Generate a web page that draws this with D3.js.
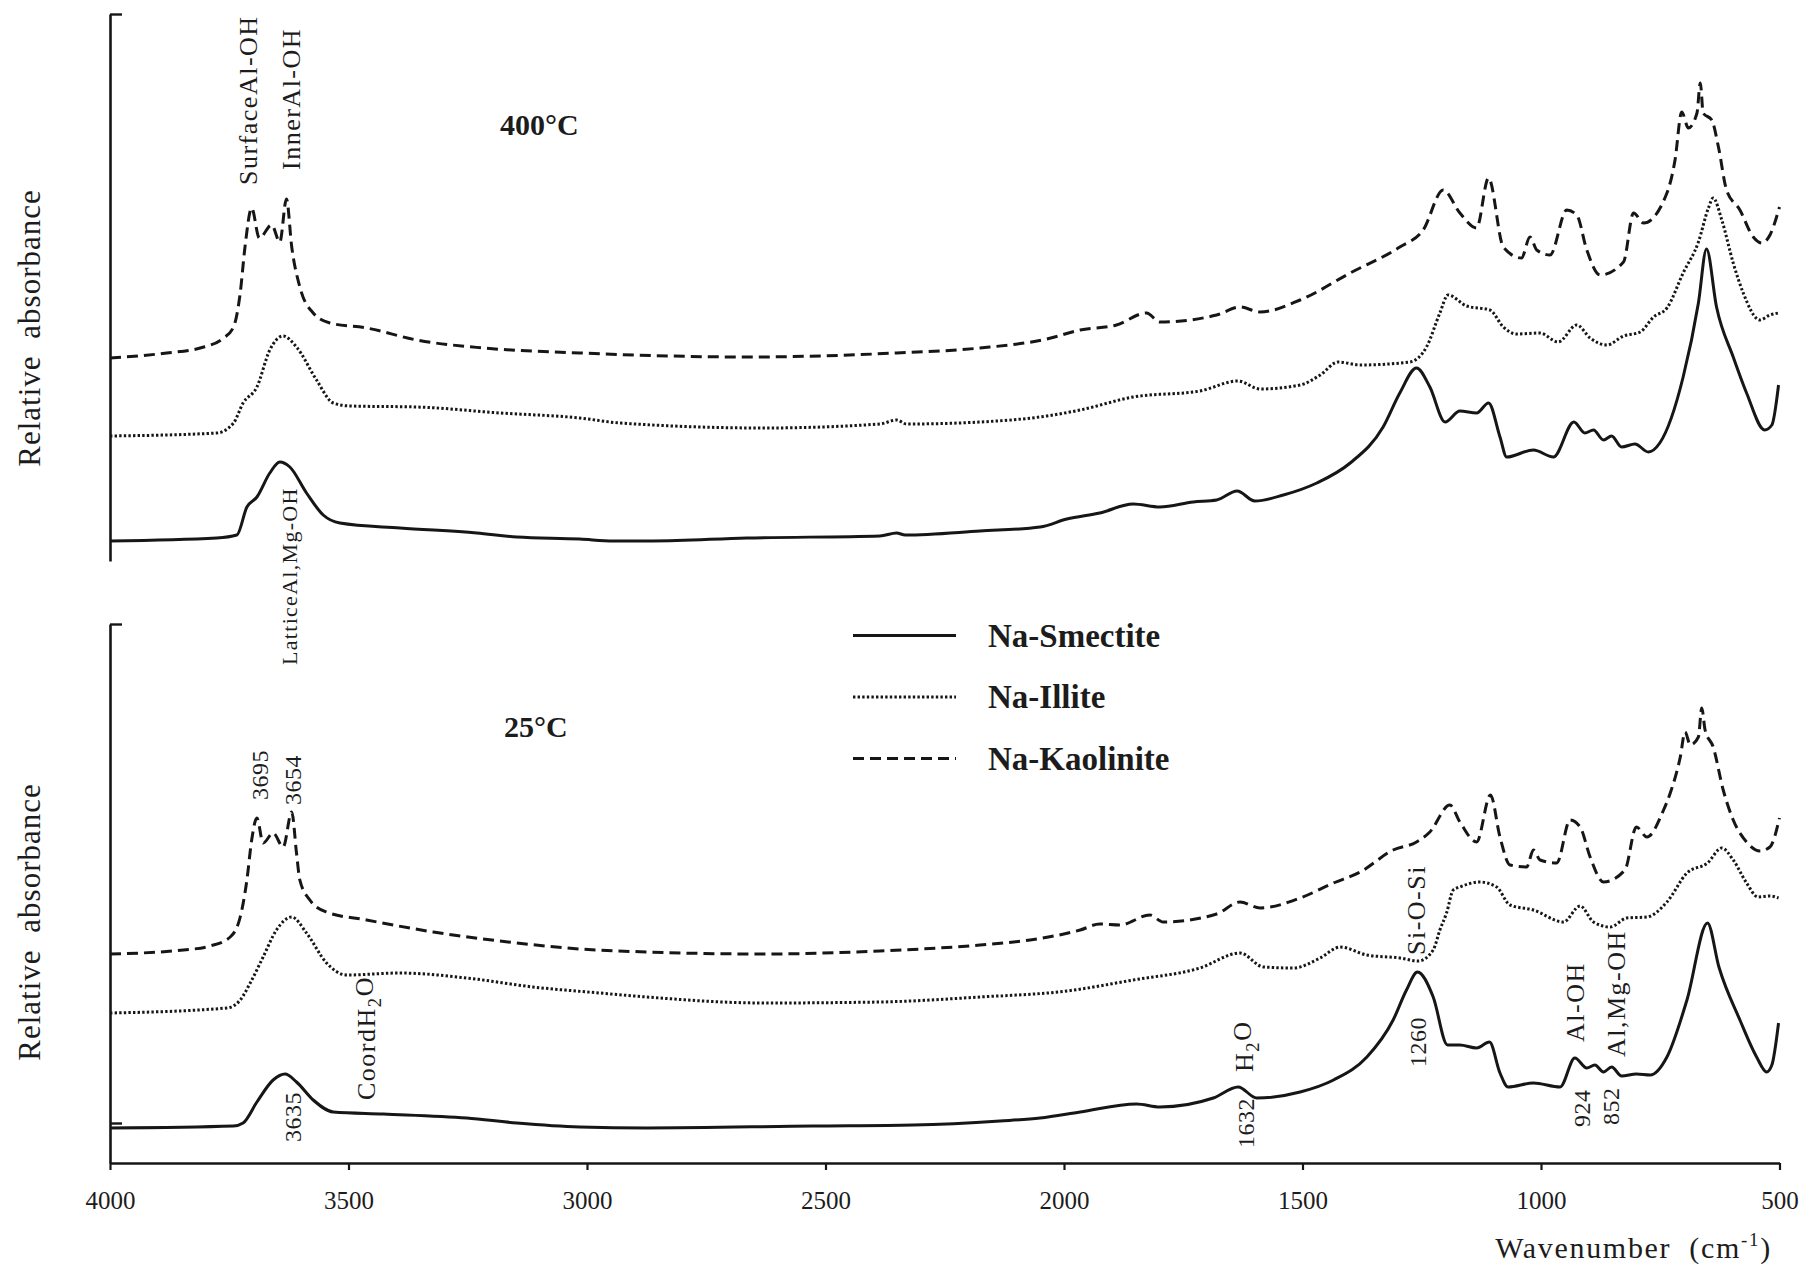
<!DOCTYPE html>
<html>
<head>
<meta charset="utf-8">
<script src="https://cdn.jsdelivr.net/npm/d3@7"></script>
<style>
  html, body { margin: 0; padding: 0; background: #fff; }
  svg { display: block; }
  text { font-family: 'Liberation Serif', 'Times New Roman', serif; fill: #1c1c1c; }
</style>
</head>
<body>
<svg id="chart" width="1802" height="1270"></svg>
<script>
// ---------------- data ----------------
const wnTicks = [4000, 3500, 3000, 2500, 2000, 1500, 1000, 500];
const seriesNames = ["Na-Smectite", "Na-Illite", "Na-Kaolinite"];
const panelTitles = ["400°C", "25°C"];

// 400 °C spectra: [wavenumber, relative absorbance (arb. units, offset)]
const smectite400 = [[4000,0.20],[3776,0.23],[3734,0.26],[3713,0.54],[3692,0.64],[3665,0.88],[3644,0.99],[3623,0.94],[3588,0.68],[3553,0.46],[3518,0.38],[3392,0.33],[3231,0.28],[3147,0.24],[3015,0.22],[2945,0.20],[2862,0.20],[2665,0.23],[2386,0.25],[2351,0.28],[2333,0.26],[2176,0.30],[2050,0.34],[1994,0.42],[1925,0.48],[1855,0.57],[1799,0.54],[1729,0.59],[1680,0.61],[1637,0.70],[1600,0.60],[1540,0.66],[1470,0.78],[1400,0.98],[1331,1.34],[1296,1.68],[1261,1.93],[1233,1.74],[1201,1.39],[1170,1.50],[1135,1.48],[1110,1.58],[1086,1.24],[1072,1.04],[1016,1.11],[974,1.04],[931,1.39],[908,1.28],[890,1.31],[869,1.21],[852,1.25],[831,1.14],[803,1.17],[775,1.09],[751,1.18],[702,1.84],[670,2.58],[653,3.12],[632,2.54],[597,2.04],[569,1.68],[531,1.31],[516,1.36],[502,1.76]];
const illite400 = [[4000,1.25],[3776,1.28],[3741,1.38],[3721,1.58],[3692,1.74],[3665,2.11],[3637,2.25],[3609,2.14],[3567,1.81],[3532,1.58],[3497,1.55],[3357,1.54],[3182,1.48],[3015,1.43],[2931,1.38],[2630,1.33],[2386,1.37],[2351,1.41],[2330,1.37],[2176,1.39],[2036,1.45],[1966,1.51],[1855,1.64],[1715,1.70],[1635,1.80],[1589,1.72],[1505,1.76],[1463,1.86],[1425,1.99],[1379,1.96],[1275,1.99],[1240,2.14],[1212,2.48],[1195,2.66],[1156,2.55],[1107,2.51],[1079,2.34],[1051,2.27],[1002,2.28],[964,2.19],[925,2.36],[897,2.23],[862,2.16],[827,2.25],[792,2.29],[764,2.44],[736,2.53],[702,2.88],[670,3.19],[649,3.53],[639,3.63],[621,3.41],[597,2.98],[576,2.68],[541,2.41],[520,2.46],[502,2.48]];
const kaolinite400 = [[4000,2.03],[3881,2.08],[3811,2.13],[3762,2.23],[3741,2.34],[3727,2.68],[3717,3.14],[3703,3.53],[3687,3.23],[3661,3.36],[3644,3.19],[3630,3.62],[3619,3.14],[3602,2.74],[3574,2.48],[3539,2.38],[3462,2.33],[3357,2.21],[3217,2.13],[3015,2.08],[2665,2.04],[2351,2.08],[2176,2.13],[2036,2.22],[1966,2.31],[1890,2.36],[1827,2.48],[1799,2.39],[1680,2.46],[1631,2.54],[1589,2.49],[1505,2.61],[1400,2.88],[1296,3.14],[1247,3.31],[1205,3.71],[1170,3.48],[1135,3.33],[1110,3.83],[1079,3.14],[1041,3.03],[1023,3.24],[1009,3.11],[981,3.06],[946,3.51],[925,3.46],[904,3.11],[876,2.86],[827,2.99],[806,3.48],[785,3.38],[736,3.68],[719,4.01],[705,4.49],[691,4.33],[673,4.48],[666,4.78],[660,4.48],[642,4.41],[628,4.14],[611,3.71],[583,3.51],[555,3.24],[537,3.18],[520,3.26],[500,3.54]];

// 25 °C spectra
const smectite25 = [[4000,0.35],[3741,0.37],[3721,0.40],[3692,0.61],[3658,0.83],[3633,0.89],[3609,0.81],[3574,0.63],[3532,0.51],[3427,0.49],[3252,0.45],[3147,0.40],[3015,0.36],[2875,0.35],[2526,0.37],[2316,0.38],[2134,0.42],[2050,0.45],[1966,0.51],[1848,0.59],[1799,0.56],[1687,0.65],[1635,0.76],[1596,0.65],[1505,0.71],[1435,0.83],[1365,1.06],[1310,1.43],[1282,1.73],[1259,1.91],[1226,1.66],[1196,1.18],[1170,1.18],[1135,1.15],[1108,1.21],[1086,0.90],[1069,0.76],[1016,0.80],[960,0.76],[929,1.05],[904,0.95],[887,0.98],[869,0.91],[852,0.96],[831,0.87],[800,0.89],[771,0.88],[736,1.06],[694,1.63],[651,2.40],[627,1.96],[583,1.43],[548,1.06],[527,0.91],[516,0.98],[502,1.40]];
const illite25 = [[4000,1.50],[3755,1.55],[3727,1.63],[3706,1.80],[3679,2.06],[3651,2.33],[3619,2.46],[3588,2.30],[3546,2.00],[3504,1.88],[3392,1.90],[3252,1.85],[3113,1.76],[2973,1.70],[2875,1.66],[2630,1.60],[2386,1.61],[2176,1.66],[1994,1.72],[1855,1.83],[1715,1.95],[1631,2.10],[1582,1.96],[1519,1.95],[1463,2.05],[1421,2.16],[1365,2.08],[1296,2.05],[1257,2.02],[1226,2.13],[1212,2.33],[1198,2.50],[1184,2.73],[1170,2.76],[1128,2.81],[1093,2.76],[1065,2.58],[1016,2.53],[953,2.41],[918,2.57],[890,2.41],[855,2.36],[820,2.45],[778,2.46],[736,2.61],[694,2.90],[651,3.00],[621,3.15],[597,3.03],[569,2.80],[545,2.66],[520,2.67],[502,2.65]];
const kaolinite25 = [[4000,2.09],[3846,2.13],[3790,2.17],[3748,2.26],[3727,2.46],[3713,2.83],[3703,3.23],[3692,3.45],[3679,3.20],[3658,3.30],[3637,3.16],[3619,3.51],[3609,3.10],[3602,2.83],[3581,2.63],[3546,2.51],[3462,2.43],[3322,2.31],[3147,2.20],[3015,2.14],[2875,2.11],[2630,2.09],[2386,2.12],[2176,2.18],[2071,2.23],[1966,2.33],[1925,2.39],[1883,2.38],[1820,2.48],[1792,2.41],[1680,2.49],[1631,2.61],[1589,2.55],[1505,2.65],[1435,2.80],[1379,2.91],[1310,3.13],[1261,3.21],[1233,3.31],[1191,3.58],[1170,3.41],[1135,3.21],[1106,3.68],[1086,3.26],[1065,2.98],[1030,2.96],[1016,3.13],[1002,3.03],[967,3.00],[939,3.43],[918,3.36],[897,3.06],[869,2.81],[824,2.93],[800,3.36],[778,3.26],[743,3.53],[729,3.70],[708,4.06],[698,4.31],[687,4.18],[670,4.26],[663,4.55],[656,4.33],[639,4.16],[618,3.73],[597,3.43],[569,3.21],[541,3.12],[520,3.16],[500,3.45]];

// band annotations: text ("_" = next char subscript), anchor wavenumber, anchor value (bottom of rotated label)
const labels400 = [
  { text: "SurfaceAl-OH", wn: 3711, v: 3.76, kind: "big" },
  { text: "InnerAl-OH", wn: 3621, v: 3.91, kind: "big" },
  { text: "LatticeAl,Mg-OH", wn: 3625, v: -1.04, kind: "small" }
];
const labels25 = [
  { text: "3695", wn: 3686, v: 3.63, kind: "num" },
  { text: "3654", wn: 3618, v: 3.58, kind: "num" },
  { text: "CoordH_2O", wn: 3463, v: 0.63, kind: "big" },
  { text: "3635", wn: 3618, v: 0.21, kind: "num" },
  { text: "H_2O", wn: 1623, v: 0.91, kind: "big" },
  { text: "1632", wn: 1619, v: 0.15, kind: "num" },
  { text: "Si-O-Si", wn: 1262, v: 2.08, kind: "big" },
  { text: "1260", wn: 1258, v: 0.96, kind: "num" },
  { text: "Al-OH", wn: 929, v: 1.21, kind: "big" },
  { text: "Al,Mg-OH", wn: 843, v: 1.06, kind: "big" },
  { text: "924", wn: 914, v: 0.36, kind: "num" },
  { text: "852", wn: 855, v: 0.38, kind: "num" }
];

// ---------------- drawing ----------------
const serif = "'Liberation Serif', 'Times New Roman', serif";
const svg = d3.select("#chart");
svg.append("rect").attr("width", 1802).attr("height", 1270).attr("fill", "#fff");

const x = d3.scaleLinear().domain([4000, 500]).range([110, 1779.5]);
const yTop = d3.scaleLinear().domain([0, 5.47]).range([561, 14]);
const yBot = d3.scaleLinear().domain([0, 5.39]).range([1163, 624]);

const styles = [
  { width: 3.0, dash: null },
  { width: 3.0, dash: "2.4,2.2" },
  { width: 3.0, dash: "11,6" }
];
const ink = "#161616";

function drawSeries(g, y, sets) {
  const line = d3.line().x(d => x(d[0])).y(d => y(d[1])).curve(d3.curveMonotoneX);
  sets.forEach((data, i) => {
    g.append("path")
      .datum(data)
      .attr("d", line)
      .attr("fill", "none")
      .attr("stroke", ink)
      .attr("stroke-width", styles[i].width)
      .attr("stroke-linejoin", "round")
      .attr("stroke-dasharray", styles[i].dash);
  });
}

function drawYAxis(y, tickVals) {
  const g = svg.append("g").attr("transform", `translate(${x(4000)},0)`)
    .call(d3.axisRight(y).tickValues(tickVals).tickSize(12).tickSizeOuter(0).tickFormat(""));
  g.select(".domain").attr("stroke", ink).attr("stroke-width", 2.6);
  g.selectAll(".tick line").attr("stroke", ink).attr("stroke-width", 2.4);
}

function addRotatedLabel(lab, y) {
  const cfg = {
    big: { size: 26, ls: 1.5 },
    small: { size: 22, ls: 1.3 },
    num: { size: 24, ls: 0.5 }
  }[lab.kind];
  const t = svg.append("text")
    .attr("transform", `translate(${x(lab.wn)},${y(lab.v)}) rotate(-90)`)
    .attr("text-anchor", "start")
    .attr("dy", "0.35em")
    .attr("font-size", cfg.size)
    .attr("letter-spacing", cfg.ls);
  const parts = lab.text.split("_");
  parts.forEach((p, i) => {
    if (i === 0) { t.append("tspan").text(p); return; }
    t.append("tspan").attr("font-size", cfg.size * 0.72).attr("dy", "0.3em").text(p[0]);
    if (p.length > 1) t.append("tspan").attr("dy", "-0.3em").text(p.slice(1));
  });
}

// panels
drawYAxis(yTop, [5.47]);
drawYAxis(yBot, [5.39, 0.40]);
drawSeries(svg.append("g"), yTop, [smectite400, illite400, kaolinite400]);
drawSeries(svg.append("g"), yBot, [smectite25, illite25, kaolinite25]);

// x axis
const xAxis = svg.append("g").attr("transform", `translate(0,${yBot(0)})`)
  .call(d3.axisBottom(x).tickValues(wnTicks).tickSize(7).tickSizeOuter(0).tickPadding(21).tickFormat(d3.format("d")));
xAxis.attr("font-family", serif);
xAxis.select(".domain").attr("stroke", ink).attr("stroke-width", 2.6);
xAxis.selectAll(".tick line").attr("stroke", ink).attr("stroke-width", 2.2);
xAxis.selectAll(".tick text")
  .style("font-family", serif)
  .style("font-size", "25px")
  .attr("fill", "#1c1c1c");

// axis titles
const xt = svg.append("text").attr("x", 1772).attr("y", 1258).attr("text-anchor", "end")
  .attr("font-size", 30).attr("letter-spacing", 1.7);
xt.append("tspan").text("Wavenumber");
xt.append("tspan").attr("dx", 18).text("(cm");
xt.append("tspan").attr("font-size", 19).attr("dy", -12).text("-1");
xt.append("tspan").attr("dy", 12).text(")");

[[yTop, 328], [yBot, 922]].forEach(([, cy]) => {
  svg.append("text").attr("transform", `translate(29,${cy}) rotate(-90)`)
    .attr("text-anchor", "middle").attr("dy", "0.35em")
    .attr("font-size", 31).attr("letter-spacing", 1).attr("word-spacing", 8)
    .text("Relative absorbance");
});

// panel titles
svg.append("text").attr("x", 500).attr("y", 135).attr("font-size", 30).attr("font-weight", "bold").text(panelTitles[0]);
svg.append("text").attr("x", 504).attr("y", 737).attr("font-size", 30).attr("font-weight", "bold").text(panelTitles[1]);

// annotations
labels400.forEach(l => addRotatedLabel(l, yTop));
labels25.forEach(l => addRotatedLabel(l, yBot));

// legend
const legendY = d3.scalePoint().domain(seriesNames).range([635.5, 758.5]);
seriesNames.forEach((name, i) => {
  const yy = legendY(name);
  svg.append("line").attr("x1", 853).attr("x2", 956).attr("y1", yy).attr("y2", yy)
    .attr("stroke", ink).attr("stroke-width", styles[i].width)
    .attr("stroke-dasharray", styles[i].dash);
  svg.append("text").attr("x", 988).attr("y", yy + 11)
    .attr("font-size", 33).attr("font-weight", "bold").text(name);
});
</script>
</body>
</html>
